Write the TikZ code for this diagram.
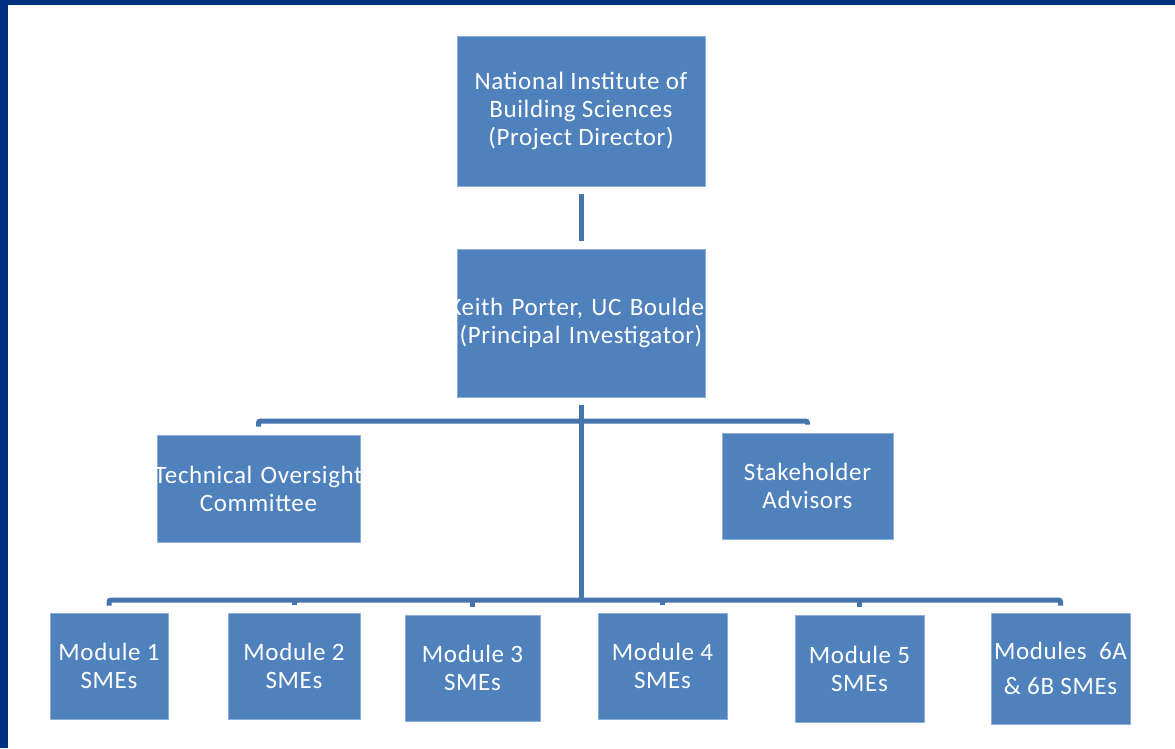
\documentclass[tikz,border=0pt]{standalone}
\usepackage{fontspec}
\setmainfont{Carlito}[LetterSpace=2.5]
\usetikzlibrary{calc}
\definecolor{boxblue}{RGB}{79,129,189}
\definecolor{boxedge}{RGB}{140,175,215}
\definecolor{connblue}{RGB}{70,116,172}
\definecolor{frameblue}{RGB}{0,48,128}
\newcommand{\fitline}[1]{\makebox[\linewidth][c]{#1}}
\tikzset{
  orgbox/.style={rectangle, fill=boxblue, draw=boxedge, line width=0.8pt, text=white,
    align=center, inner sep=0pt, font=\fontsize{25}{28}\selectfont},
  conn/.style={draw=connblue, line width=5pt, rounded corners=2pt}
}
\begin{document}
\begin{tikzpicture}[x=1pt,y=-1pt]
\useasboundingbox (0,0) rectangle (1175,748);
\fill[white] (0,0) rectangle (1175,748);
\fill[frameblue] (0,0) rectangle (1175,5);
\fill[frameblue] (0,0) rectangle (8,748);

\node[orgbox, minimum width=248pt, minimum height=150pt] (nibs) at (581,111)
  {National Institute of\\Building Sciences\\(Project Director)};
\node[orgbox, text width=248pt, minimum height=148pt] (keith) at (581,323)
  {\fitline{Keith Porter, UC Boulder}\\\fitline{(Principal Investigator)}};
\node[orgbox, text width=203pt, minimum height=107pt] (toc) at (258.5,488.5)
  {\fitline{Technical Oversight}\\\fitline{Committee}};
\node[orgbox, minimum width=171pt, minimum height=106pt] (stake) at (807.5,486)
  {Stakeholder\\Advisors};

\node[orgbox, minimum width=118pt, minimum height=106pt] (m1) at (109,666) {Module 1\\SMEs};
\node[orgbox, minimum width=132pt, minimum height=106pt] (m2) at (294,666) {Module 2\\SMEs};
\node[orgbox, minimum width=135pt, minimum height=106pt] (m3) at (472.5,668) {Module 3\\SMEs};
\node[orgbox, minimum width=129pt, minimum height=106pt] (m4) at (662.5,666) {Module 4\\SMEs};
\node[orgbox, minimum width=129pt, minimum height=107pt] (m5) at (859.5,668.5) {Module 5\\SMEs};
\node[orgbox, minimum width=139pt, minimum height=111pt, font=\fontsize{25}{35}\selectfont] (m6) at (1060.5,668.5) {Modules\ \ 6A\\\& 6B SMEs};

\coordinate (bar1) at (581,421);
\coordinate (bar2) at (581,600);

\draw[conn, rounded corners=0pt] ([yshift=-8pt]nibs.south) -- ([yshift=8pt]keith.north);
\draw[conn, rounded corners=0pt] ([yshift=-8pt]keith.south) -- (bar2);
\draw[conn] ([yshift=8pt]toc.north) |- (bar1) -| ([yshift=8pt]stake.north);
\draw[conn] ([yshift=7pt]m1.north) |- (bar2) -| ([yshift=7pt]m6.north);
\foreach \m in {m2,m3,m4,m5}{
  \draw[conn, rounded corners=0pt] (\m.north |- bar2) -- ([yshift=8pt]\m.north);
}
\end{tikzpicture}
\end{document}
